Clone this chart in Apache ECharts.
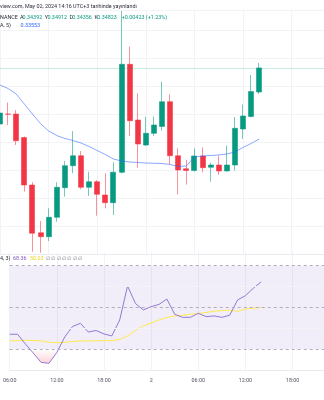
<!DOCTYPE html>
<html>
<head>
<meta charset="utf-8">
<script src="https://cdn.jsdelivr.net/npm/echarts@6/dist/echarts.min.js"></script>
<style>
  html, body { margin: 0; padding: 0; background: #ffffff; }
  #chart { width: 324px; height: 400px; }
</style>
</head>
<body>
<div id="chart"></div>
<script>
// Hourly bars, UTC+3
const categories = [
  '2024-05-01 06:00', '2024-05-01 07:00', '2024-05-01 08:00', '2024-05-01 09:00', '2024-05-01 10:00',
  '2024-05-01 11:00', '2024-05-01 12:00', '2024-05-01 13:00', '2024-05-01 14:00', '2024-05-01 15:00',
  '2024-05-01 16:00', '2024-05-01 17:00', '2024-05-01 18:00', '2024-05-01 19:00', '2024-05-01 20:00',
  '2024-05-01 21:00', '2024-05-01 22:00', '2024-05-01 23:00', '2024-05-02 00:00', '2024-05-02 01:00',
  '2024-05-02 02:00', '2024-05-02 03:00', '2024-05-02 04:00', '2024-05-02 05:00', '2024-05-02 06:00',
  '2024-05-02 07:00', '2024-05-02 08:00', '2024-05-02 09:00', '2024-05-02 10:00', '2024-05-02 11:00',
  '2024-05-02 12:00', '2024-05-02 13:00', '2024-05-02 14:00', '2024-05-02 15:00', '2024-05-02 16:00',
  '2024-05-02 17:00', '2024-05-02 18:00', '2024-05-02 19:00', '2024-05-02 20:00', '2024-05-02 21:00',
  '2024-05-02 22:00'
];

const open = [0.33821, 0.34000, 0.34000, 0.33580, 0.32732, 0.31880, 0.31809, 0.32155, 0.32684, 0.33077,
  0.33255, 0.32691, 0.32791, 0.32554, 0.32416, 0.32959, 0.34888, 0.33893, 0.33446, 0.33655,
  0.33777, 0.34220, 0.33255, 0.33023, 0.32991, 0.33250, 0.33048, 0.33089, 0.32982, 0.33089,
  0.33732, 0.33955, 0.34392];
const close = [0.34018, 0.33995, 0.33523, 0.32732, 0.31870, 0.31809, 0.32155, 0.32691, 0.33077, 0.33255,
  0.32691, 0.32791, 0.32566, 0.32416, 0.32959, 0.34888, 0.33880, 0.33464, 0.33655, 0.33804,
  0.34220, 0.33255, 0.33000, 0.32991, 0.33250, 0.33041, 0.33089, 0.32982, 0.33089, 0.33745,
  0.33964, 0.34400, 0.34823];
const low = [0.33780, 0.33804, 0.33446, 0.32613, 0.31541, 0.31523, 0.31732, 0.32077, 0.32523, 0.32941,
  0.32655, 0.32536, 0.32184, 0.32316, 0.32196, 0.32938, 0.33607, 0.33041, 0.33429, 0.33607,
  0.33705, 0.33102, 0.32563, 0.32738, 0.32973, 0.32959, 0.32791, 0.32911, 0.32973, 0.32988,
  0.33554, 0.33938, 0.34356];
const high = [0.34060, 0.34205, 0.34071, 0.33598, 0.32780, 0.32089, 0.32316, 0.32780, 0.33161, 0.33696,
  0.33339, 0.32970, 0.32821, 0.32941, 0.33138, 0.35839, 0.35202, 0.34370, 0.33952, 0.33952,
  0.34577, 0.34352, 0.33388, 0.33179, 0.33384, 0.33405, 0.33130, 0.33255, 0.33438, 0.33946,
  0.34170, 0.34696, 0.34912];

// Moving average (5)
const movingAvg = [0.34518, 0.34455, 0.34357, 0.34179, 0.34000, 0.33830, 0.33696, 0.33616, 0.33563, 0.33527,
  0.33482, 0.33420, 0.33348, 0.33277, 0.33196, 0.33161, 0.33143, 0.33134, 0.33125, 0.33120,
  0.33116, 0.33098, 0.33063, 0.33071, 0.33232, 0.33250, 0.33259, 0.33268, 0.33286, 0.33321,
  0.33402, 0.33473, 0.33553];

// Stochastic RSI
const stochK = [30.6, 30.6, 23.6, 17.1, 10.3, 9.7, 17.5, 28.6, 36.2, 38.5,
  32.2, 33.3, 30.8, 29.4, 40.9, 65.4, 52.8, 48.1, 50.5, 52.1,
  56.0, 45.0, 42.8, 42.8, 45.7, 43.3, 43.8, 42.8, 44.3, 55.3,
  58.4, 63.7, 68.36];
const stochD = [25.8, 26.0, 26.3, 26.1, 25.8, 24.9, 24.5, 24.7, 25.4, 25.8,
  25.8, 25.9, 26.0, 26.1, 26.8, 29.4, 33.3, 36.6, 38.7, 40.9,
  42.7, 43.8, 44.3, 44.9, 45.6, 46.3, 47.2, 47.7, 47.9, 47.0,
  48.8, 49.4, 50.03];
const stochBands = { upper: 80, middle: 50, lower: 20 };
const stochGrid = [35, 65];

const GREEN = '#089981';
const RED = '#f23645';
const GRID = '#f2f3f7';
const TEXT = '#2a2e39';
const FONT = 'Roboto, "Liberation Sans", sans-serif';
const FS = 5.4;

const chart = echarts.init(document.getElementById('chart'), null, { renderer: 'canvas' });

const everySixHours = (i) => Number(categories[i].slice(11, 13)) % 6 === 0;
const timeLabel = (v) => {
  const hm = v.slice(11);
  return hm === '00:00' ? String(Number(v.slice(8, 10))) : hm;
};

const candles = open.map((o, i) => [o, close[i], low[i], high[i]]);
const last = close.length - 1;
const fmt = (v) => v.toFixed(5);
const change = close[last] - close[last - 1];

// legend text pieces: [text, left, top, colour]
const legendTexts = [
  ['view.com, May 02, 2024 14:16 UTC+3 tarihinde yayınlandı', 0, 3, TEXT],
  ['NANCE', 0, 14, TEXT],
  ['A', 20, 14, TEXT], [fmt(open[last]), 22.6, 14, GREEN],
  ['Y', 44.8, 14, TEXT], [fmt(high[last]), 47.4, 14, GREEN],
  ['D', 69.4, 14, TEXT], [fmt(low[last]), 72.2, 14, GREEN],
  ['K', 94.6, 14, TEXT], [fmt(close[last]), 97.2, 14, GREEN],
  ['+' + fmt(change) + ' (+' + (change / close[last - 1] * 100).toFixed(2) + '%)', 121.8, 14, GREEN],
  ['A, 5)', 0, 22, TEXT], [fmt(movingAvg[last]), 20.5, 22, '#2962ff'],
  ['4, 3)', 0, 255.6, TEXT],
  [stochK[last].toFixed(2), 13, 255.6, '#7e57c2'],
  [stochD[last].toFixed(2), 30, 255.6, '#f0d52a'],
  ['∅ ∅ ∅ ∅ ∅ ∅ ∅', 46, 255.6, '#787b86']
];

const xBase = {
  type: 'category',
  data: categories,
  boundaryGap: false,
  axisTick: { show: false },
  axisLine: { show: true, lineStyle: { color: '#e9ebf0', width: 1 } },
  splitLine: { show: true, interval: everySixHours, lineStyle: { color: GRID, width: 1 } }
};

const option = {
  animation: false,
  backgroundColor: '#ffffff',
  title: legendTexts.map((t) => ({
    text: t[0],
    left: t[1],
    top: t[2],
    padding: 0,
    itemGap: 0,
    z: 10,
    textStyle: { color: t[3], fontSize: FS, fontFamily: FONT, fontWeight: 'normal', lineHeight: FS + 1 }
  })),
  grid: [
    { left: -2.2, top: 10, width: 330.8, height: 244 },
    { left: -2.2, top: 251.8, width: 330.8, height: 118 }
  ],
  xAxis: [
    Object.assign({}, xBase, { gridIndex: 0, axisLabel: { show: false } }),
    Object.assign({}, xBase, {
      gridIndex: 1,
      axisLabel: {
        show: true, interval: everySixHours, formatter: timeLabel,
        fontSize: FS, fontFamily: FONT, color: '#50535e', margin: 8
      }
    })
  ],
  yAxis: [
    {
      type: 'value', gridIndex: 0, min: 0.315, max: 0.358571, interval: 0.005,
      axisLabel: { show: false }, axisLine: { show: false }, axisTick: { show: false },
      splitLine: { show: true, lineStyle: { color: GRID, width: 1 } }
    },
    {
      type: 'value', gridIndex: 1, min: 5, max: 90,
      axisLabel: { show: false }, axisLine: { show: false }, axisTick: { show: false },
      splitLine: { show: false }
    }
  ],
  series: [
    {
      type: 'candlestick',
      xAxisIndex: 0, yAxisIndex: 0,
      data: candles,
      barWidth: 5.5,
      itemStyle: {
        color: GREEN, color0: RED,
        borderColor: 'rgba(8,153,129,0.55)', borderColor0: 'rgba(242,54,69,0.55)',
        borderWidth: 1
      },
      markLine: {
        silent: true, symbol: ['none', 'none'], label: { show: false },
        precision: 5,
        lineStyle: { color: 'rgba(8,153,129,0.22)', type: 'solid', width: 1 },
        data: [{ yAxis: close[last] }]
      },
      z: 3
    },
    {
      type: 'line',
      xAxisIndex: 0, yAxisIndex: 0,
      data: movingAvg,
      symbol: 'none',
      lineStyle: { color: '#2962ff', width: 1, opacity: 0.55 },
      z: 4
    },
    {
      // oversold fill between %K and the lower band
      type: 'line',
      xAxisIndex: 1, yAxisIndex: 1,
      data: stochK,
      symbol: 'none',
      lineStyle: { width: 0 },
      areaStyle: {
        origin: stochBands.lower,
        color: new echarts.graphic.LinearGradient(0, 349, 0, 377, [
          { offset: 0, color: 'rgba(242,54,69,0)' },
          { offset: 1, color: 'rgba(242,54,69,0.6)' }
        ], true)
      },
      z: 1
    },
    {
      type: 'line',
      xAxisIndex: 1, yAxisIndex: 1,
      data: stochD,
      symbol: 'none',
      lineStyle: { color: '#ffe94d', width: 1 },
      markArea: {
        silent: true,
        itemStyle: { color: 'rgba(126,87,194,0.1)' },
        data: [[{ yAxis: stochBands.lower }, { yAxis: stochBands.upper }]]
      },
      markLine: {
        silent: true, symbol: ['none', 'none'], label: { show: false },
        lineStyle: { color: '#b1adbd', type: [3, 3], width: 1 },
        data: [{ yAxis: stochBands.upper }, { yAxis: stochBands.middle }, { yAxis: stochBands.lower }]
      },
      z: 2
    },
    {
      type: 'line',
      xAxisIndex: 1, yAxisIndex: 1,
      data: stochK,
      symbol: 'none',
      lineStyle: { color: '#9378d4', width: 1 },
      markLine: {
        silent: true, symbol: ['none', 'none'], label: { show: false },
        lineStyle: { color: GRID, type: 'solid', width: 1 },
        data: stochGrid.map(v => ({ yAxis: v }))
      },
      z: 3
    }
  ]
};

chart.setOption(option);
</script>
</body>
</html>
